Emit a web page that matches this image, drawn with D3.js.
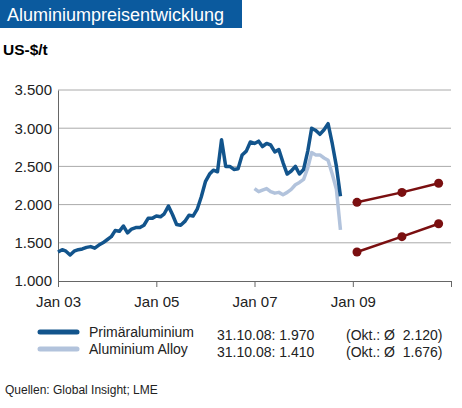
<!DOCTYPE html>
<html><head><meta charset="utf-8">
<script src="https://cdn.jsdelivr.net/npm/d3@7"></script>
<style>body{margin:0;background:#fff;font-family:"Liberation Sans",Arial,sans-serif}</style>
</head><body><svg width="462" height="408"></svg>
<script>
// monthly averages, Jan 03 .. Oct 08
const primary = [
  1380,1410,1390,1340,1390,1410,1420,1440,1450,1430,1470,1500,
  1540,1580,1660,1650,1720,1630,1680,1700,1700,1730,1820,1820,
  1850,1840,1880,1980,1870,1740,1730,1780,1860,1850,1940,2100,
  2300,2400,2450,2430,2850,2500,2500,2460,2470,2650,2700,2820,
  2800,2830,2760,2800,2780,2690,2720,2550,2400,2440,2500,2400,
  2460,2700,3000,2970,2920,2980,3060,2800,2500,2110
];
// Jan 07 .. Oct 08
const alloy = [
  2210,2170,2190,2210,2170,2150,2160,2130,2160,2200,2260,2290,
  2330,2480,2680,2650,2650,2610,2580,2400,2200,1670
];
const forecastDates = ["2009-02", "2010-01", "2010-10"];
const forecastPrimary = [2030, 2160, 2280];
const forecastAlloy = [1380, 1580, 1750];
const yTicks = [1000, 1500, 2000, 2500, 3000, 3500];
const xTicks = ["2003-01", "2005-01", "2007-01", "2009-01", "2011-01"];

const svg = d3.select("svg");
const parse = d3.timeParse("%Y-%m");
const x = d3.scaleTime().domain([parse("2003-01"), parse("2011-01")]).range([58, 451]);
const y = d3.scaleLinear().domain([1000, 3500]).range([281, 90]);

svg.append("rect").attr("x", 0).attr("y", 0).attr("width", 242).attr("height", 28).attr("fill", "#0b5a9e");
svg.append("text").attr("x", 7).attr("y", 21).attr("fill", "#fff").attr("font-size", 18).text("Aluminiumpreisentwicklung");
svg.append("text").attr("x", 3).attr("y", 55).attr("font-size", 15.5).attr("font-weight", "bold").text("US-$/t");

svg.append("g").selectAll("line").data(yTicks.slice(1)).join("line")
  .attr("x1", 58).attr("x2", 451).attr("y1", d => y(d)).attr("y2", d => y(d))
  .attr("stroke", "#aaa").attr("stroke-width", 1);

const yAxis = svg.append("g").attr("transform", "translate(58,0)")
  .call(d3.axisLeft(y).tickValues(yTicks).tickSize(0).tickPadding(6));
yAxis.select(".domain").attr("stroke", "#666");
yAxis.selectAll("text").attr("font-size", 15).attr("fill", "#222").attr("font-family", "Liberation Sans, Arial")
  .text(d => d3.format(",")(d).replace(",", "."));

const xAxis = svg.append("g").attr("transform", "translate(0,281)")
  .call(d3.axisBottom(x).tickValues(xTicks.map(parse)).tickSize(6).tickSizeOuter(0)
    .tickFormat(d => d.getFullYear() > 2010 ? "" : "Jan " + d3.timeFormat("%y")(d)));
xAxis.select(".domain").attr("stroke", "#666");
xAxis.selectAll("line").attr("stroke", "#666");
xAxis.selectAll("text").attr("font-size", 15).attr("fill", "#222").attr("dy", "1.1em").attr("font-family", "Liberation Sans, Arial");

const monthDate = (start, i) => d3.timeMonth.offset(parse(start), i);
const line = d3.line().x(d => x(d[0])).y(d => y(d[1]));

svg.append("path").datum(alloy.map((v, i) => [monthDate("2007-01", i), v]))
  .attr("d", line).attr("fill", "none").attr("stroke", "#b2c3dc").attr("stroke-width", 3.5).attr("stroke-linejoin", "round");
svg.append("path").datum(primary.map((v, i) => [monthDate("2003-01", i), v]))
  .attr("d", line).attr("fill", "none").attr("stroke", "#12548c").attr("stroke-width", 3.5).attr("stroke-linejoin", "round");

[forecastPrimary, forecastAlloy].forEach(s => {
  const pts = s.map((v, i) => [parse(forecastDates[i]), v]);
  svg.append("path").datum(pts).attr("d", line).attr("fill", "none").attr("stroke", "#7a0f10").attr("stroke-width", 2.5);
  svg.append("g").selectAll("circle").data(pts).join("circle")
    .attr("cx", d => x(d[0])).attr("cy", d => y(d[1])).attr("r", 4.5).attr("fill", "#7a0f10");
});

const legend = [
  {name: "Primäraluminium", color: "#12548c", val: "31.10.08: 1.970", avg: "(Okt.: Ø\u00a0 2.120)", y: 333},
  {name: "Aluminium Alloy", color: "#b2c3dc", val: "31.10.08: 1.410", avg: "(Okt.: Ø\u00a0 1.676)", y: 350}
];
legend.forEach(l => {
  svg.append("line").attr("x1", 40).attr("x2", 77).attr("y1", l.y - 1).attr("y2", l.y - 1)
    .attr("stroke", l.color).attr("stroke-width", 5).attr("stroke-linecap", "round");
  svg.append("text").attr("x", 89).attr("y", l.y + 4).attr("font-size", 14).attr("fill", "#222").text(l.name);
  svg.append("text").attr("x", 217).attr("y", l.y + 7).attr("font-size", 14).attr("fill", "#222").text(l.val);
  svg.append("text").attr("x", 346).attr("y", l.y + 7).attr("font-size", 14).attr("fill", "#222").text(l.avg);
});
svg.append("text").attr("x", 5).attr("y", 394).attr("font-size", 12).attr("fill", "#222").text("Quellen: Global Insight; LME");
</script></body></html>
